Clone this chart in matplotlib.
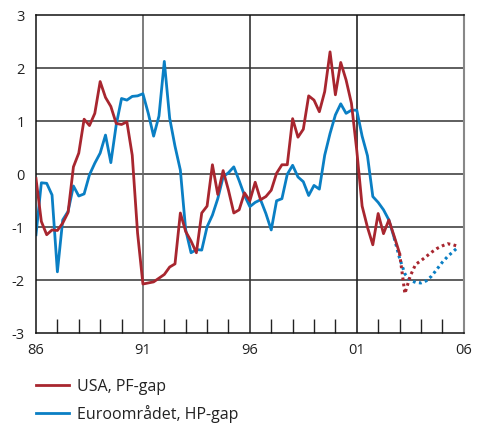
import numpy as np
import matplotlib
matplotlib.use("Agg")
import matplotlib.pyplot as plt
from matplotlib.ticker import FixedLocator, FixedFormatter

plt.rcParams['font.family'] = ['Open Sans', 'DejaVu Sans']
plt.rcParams['axes.unicode_minus'] = False

start_year = 1986  # first quarter 1986Q1

usa_actual = [
    -0.08, -0.89, -1.14, -1.05,
    -1.06, -0.92, -0.72, 0.14,
    0.40, 1.04, 0.92, 1.15,
    1.75, 1.45, 1.28, 0.96,
    0.94, 0.99, 0.36, -1.11,
    -2.07, -2.05, -2.03, -1.96,
    -1.89, -1.75, -1.69, -0.73,
    -1.08, -1.26, -1.48, -0.73,
    -0.60, 0.18, -0.38, 0.07,
    -0.30, -0.73, -0.67, -0.35,
    -0.50, -0.15, -0.48, -0.42,
    -0.30, 0.02, 0.18, 0.18,
    1.05, 0.70, 0.85, 1.48,
    1.40, 1.18, 1.56, 2.31,
    1.50, 2.11, 1.78, 1.34,
    0.45, -0.60, -1.00, -1.33,
    -0.74, -1.12, -0.86, -1.17,
    -1.49,
]
usa_forecast = [-1.49, -2.25, -1.92, -1.70, -1.63, -1.55, -1.47, -1.40,
                -1.35, -1.31, -1.33, -1.36]

euro_actual = [
    -1.14, -0.16, -0.17, -0.39,
    -1.84, -0.86, -0.70, -0.22,
    -0.41, -0.37, -0.01, 0.21,
    0.40, 0.74, 0.22, 0.93,
    1.43, 1.40, 1.47, 1.48,
    1.52, 1.15, 0.72, 1.10,
    2.13, 1.06, 0.53, 0.08,
    -1.05, -1.48, -1.42, -1.43,
    -0.99, -0.77, -0.46, -0.05,
    0.03, 0.14, -0.12, -0.40,
    -0.61, -0.53, -0.48, -0.74,
    -1.05, -0.50, -0.46, 0.00,
    0.17, -0.05, -0.14, -0.40,
    -0.21, -0.28, 0.36, 0.77,
    1.12, 1.33, 1.15, 1.21,
    1.21, 0.72, 0.35, -0.42,
    -0.53, -0.67, -0.86, -1.20,
]
euro_forecast = [-1.20, -1.58, -1.88, -2.00, -2.04, -2.05, -2.01, -1.92,
                 -1.79, -1.66, -1.55, -1.46, -1.37]

x_tick_years = [1986, 1991, 1996, 2001, 2006]
x_tick_labels = ['86', '91', '96', '01', '06']
y_ticks = [-3, -2, -1, 0, 1, 2, 3]
legend_labels = ['USA, PF-gap', 'Euroområdet, HP-gap']

red = '#a8262f'
blue = '#0a7fc4'

def qx(offset, n):
    return start_year + (np.arange(n) + offset) / 4.0

fig = plt.figure(figsize=(4.81, 4.24), dpi=100)
ax = fig.add_axes([36/481, 1 - 333.3/424, (463.7-36)/481, (333.3-15.3)/424])

n_usa = len(usa_actual)
n_eur = len(euro_actual)
l1, = ax.plot(qx(0, n_usa), usa_actual, color=red, lw=2.0, solid_joinstyle='round', zorder=3)
ax.plot(qx(n_usa - 1, len(usa_forecast)), usa_forecast, color=red, lw=2.2,
        linestyle=(0, (0.9, 1.1)), zorder=3)
l2, = ax.plot(qx(0, n_eur), euro_actual, color=blue, lw=2.0, solid_joinstyle='round', zorder=2)
ax.plot(qx(n_eur - 1, len(euro_forecast)), euro_forecast, color=blue, lw=2.2,
        linestyle=(0, (0.9, 1.1)), zorder=2)

ax.set_xlim(1986, 2006)
ax.set_ylim(-3, 3)

for y in y_ticks[1:-1]:
    ax.axhline(y, color='#333333', lw=1.1, zorder=1)
grid_colors = ['#666666', '#333333', '#222222']
for xv, gc in zip(x_tick_years[1:-1], grid_colors):
    ax.axvline(xv, color=gc, lw=1.2, zorder=1)

ax.xaxis.set_major_locator(FixedLocator(x_tick_years))
ax.xaxis.set_major_formatter(FixedFormatter(x_tick_labels))
ax.xaxis.set_minor_locator(FixedLocator(list(range(1986, 2007))))
ax.tick_params(axis='x', which='major', length=0, pad=7, labelsize=10.5, colors='#222222')
ax.tick_params(axis='x', which='minor', length=10, direction='in', width=1, color='#222222')
ax.set_yticks(y_ticks)
ax.set_yticklabels([str(v) for v in y_ticks])
ax.tick_params(axis='y', length=0, pad=8, labelsize=10.5, colors='#222222')

for s in ['left', 'bottom', 'top']:
    ax.spines[s].set_color('#111111')
    ax.spines[s].set_linewidth(1.1)
ax.spines['right'].set_color('#888888')
ax.spines['right'].set_linewidth(1.5)

fig.legend([l1, l2], legend_labels, loc='upper left', bbox_to_anchor=(36/481, 1 - 379/424),
           frameon=False, fontsize=11.5, handlelength=2.05, handletextpad=0.5,
           labelspacing=0.62, borderpad=0, borderaxespad=0, labelcolor='#222222')

fig.savefig('out.png', dpi=100)
